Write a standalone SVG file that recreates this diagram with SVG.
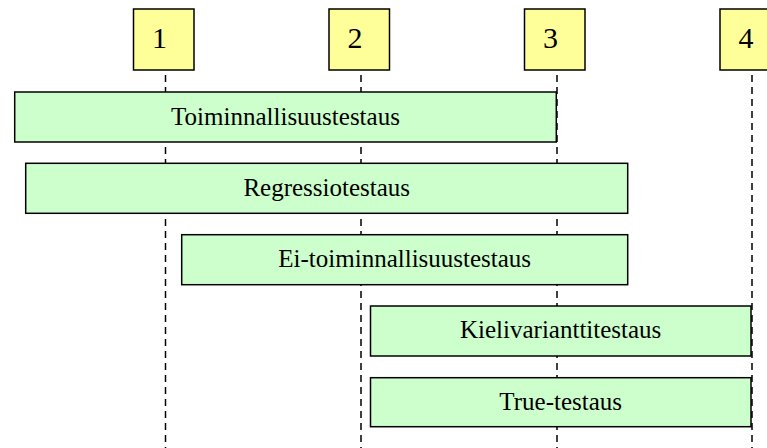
<svg xmlns="http://www.w3.org/2000/svg" width="767" height="448" viewBox="0 0 767 448">
<style>
.lane{fill:#FFFF99;stroke:#000;stroke-width:1.5}
.bar{fill:#CCFFCC;stroke:#000;stroke-width:1.5}
.dash{stroke:#000;stroke-width:1.5;stroke-dasharray:7 5;fill:none}
.num{font-family:"Liberation Serif","Times New Roman",serif;font-size:30px;fill:#000;text-anchor:middle}
.lbl{font-family:"Liberation Serif","Times New Roman",serif;font-size:25px;fill:#000;text-anchor:middle}
</style>
<rect width="767" height="448" fill="#fff"/>
<g id="connectors">
<line class="dash" x1="165.5" y1="75" x2="165.5" y2="448"/>
<line class="dash" x1="361" y1="75" x2="361" y2="448"/>
<line class="dash" x1="557" y1="75" x2="557" y2="448"/>
<line class="dash" x1="752" y1="75" x2="752" y2="448"/>
</g>
<g id="m1"><rect class="lane" x="133.5" y="9" width="60.5" height="61"/><text class="num" x="159.5" y="47.5">1</text></g>
<g id="m2"><rect class="lane" x="329" y="9" width="60.5" height="61"/><text class="num" x="355" y="47.5">2</text></g>
<g id="m3"><rect class="lane" x="524.5" y="9" width="60.5" height="61"/><text class="num" x="550.5" y="47.5">3</text></g>
<g id="m4"><rect class="lane" x="720" y="9" width="60.5" height="61"/><text class="num" x="746" y="47.5">4</text></g>
<g id="b1"><rect class="bar" x="14.7" y="92" width="541.6" height="50"/><text class="lbl" x="285.5" y="124.5">Toiminnallisuustestaus</text></g>
<g id="b2"><rect class="bar" x="25.7" y="163.3" width="602" height="50"/><text class="lbl" x="326.7" y="195.5">Regressiotestaus</text></g>
<g id="b3"><rect class="bar" x="181.7" y="234.7" width="446" height="50"/><text class="lbl" x="404.7" y="267">Ei-toiminnallisuustestaus</text></g>
<g id="b4"><rect class="bar" x="370.5" y="306" width="380.5" height="50"/><text class="lbl" x="560.7" y="338">Kielivarianttitestaus</text></g>
<g id="b5"><rect class="bar" x="370.5" y="377.7" width="380.5" height="49"/><text class="lbl" x="560.7" y="409.5">True-testaus</text></g>
</svg>
